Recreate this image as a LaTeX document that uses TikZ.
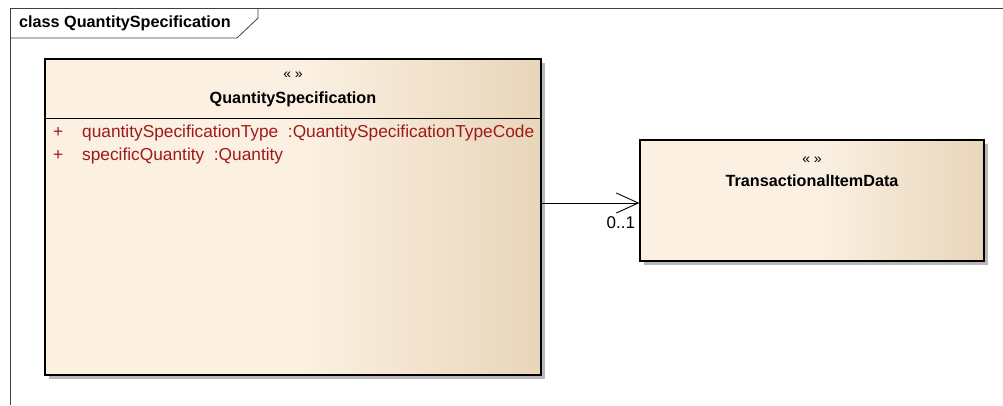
\documentclass[tikz,border=0pt]{standalone}
\usepackage{fontspec}
\setmainfont{Liberation Sans}
\usetikzlibrary{arrows.meta,shadows}

\definecolor{umlcream}{HTML}{FBF0E2}
\definecolor{umltan}{HTML}{E8D6BA}
\definecolor{attrred}{HTML}{9E1A1A}
\definecolor{framegray}{HTML}{404040}
\pgfdeclarehorizontalshading{classfill}{100bp}{color(0bp)=(umlcream); color(25bp)=(umlcream);
  color(51bp)=(umlcream); color(75bp)=(umltan); color(100bp)=(umltan)}

\tikzset{
  classbox/.style={draw=black,line width=1.2pt,shading=classfill,
    drop shadow={shadow xshift=4pt,shadow yshift=-4pt,fill=black!28,opacity=1},
    inner sep=0pt},
  stereo/.style={font=\fontsize{14}{16}\selectfont,inner sep=0pt},
  classname/.style={font=\fontsize{16.2}{18}\selectfont\bfseries,inner sep=0pt},
  attr/.style={font=\fontsize{17.3}{19}\selectfont,text=attrred,inner sep=0pt,anchor=base west},
  assoc/.style={line width=0.9pt,-{Straight Barb[length=22pt,width=20pt,line width=0.9pt]}}
}

\begin{document}
\begin{tikzpicture}[x=1pt,y=-1pt]
  \useasboundingbox (0,0) rectangle (1003,405);

  % diagram frame and its tab
  \draw[framegray,line width=0.8pt] (10,405) -- (10,8) -- (1003,8);
  \draw[framegray,line width=0.8pt] (10,38) -- (237,38) -- (258,18) -- (258,8);
  \node[classname,anchor=base west] (title) at (19,27) {class QuantitySpecification};

  % class QuantitySpecification
  \node[classbox,minimum width=496pt,minimum height=316pt] (qs) at (293,217) {};
  \draw[line width=1pt] (qs.west |- 0,118) -- (qs.east |- 0,118);
  \node[stereo] (qsst) at (293,75) {« »};
  \node[classname] (qsname) at (293,99) {QuantitySpecification};
  \node[attr] (qsp1) at (53,137) {+};
  \node[attr] (qsa1) at (82,137) {quantitySpecificationType\ \ :QuantitySpecificationTypeCode};
  \node[attr] (qsp2) at (53,160) {+};
  \node[attr] (qsa2) at (82,160) {specificQuantity\ \ :Quantity};

  % class TransactionalItemData
  \node[classbox,minimum width=344pt,minimum height=121pt] (tid) at (812,200.5) {};
  \node[stereo] (tidst) at (812,160) {« »};
  \node[classname] (tidname) at (812,181) {TransactionalItemData};

  % association
  \draw[assoc] (qs.east |- 0,203) -- (tid.west |- 0,203)
    node[pos=1,anchor=north east,inner sep=0pt,xshift=-4pt,yshift=-13pt,font=\fontsize{17}{19}\selectfont] (mult) {0..1};
\end{tikzpicture}
\end{document}
